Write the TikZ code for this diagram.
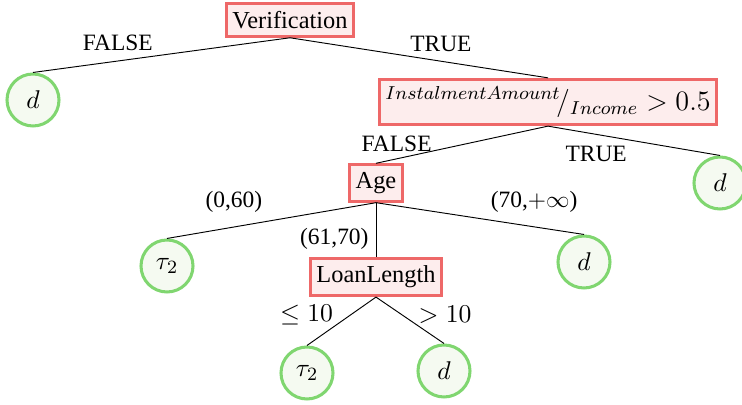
\documentclass[tikz,border=0pt]{standalone}
\usepackage[no-math]{fontspec}
\setmainfont{Liberation Serif}
\usepackage{amsmath}
\usetikzlibrary{positioning}

\definecolor{splitred}{RGB}{238,104,104}
\definecolor{splitfill}{RGB}{253,237,237}
\definecolor{leafgreen}{RGB}{128,214,112}
\definecolor{leaffill}{RGB}{245,250,241}

\tikzset{
  split/.style={draw=splitred, fill=splitfill, line width=1.3pt, rectangle,
    inner xsep=2.6pt, inner ysep=3.2pt, font=\fontsize{10.4}{12}\selectfont},
  leaf/.style={draw=leafgreen, fill=leaffill, line width=1.3pt, circle,
    minimum size=0.78cm, inner sep=0pt, font=\fontsize{11}{13}\selectfont},
  edgelbl/.style={font=\normalsize, inner sep=2pt}
}

\begin{document}
\begin{tikzpicture}[node distance=1.2cm, on grid]
  \useasboundingbox (0,0) rectangle (11.13,-6.075);

  % Wurzel
  \node[split] (verif) at (4.35,-0.30) {Verification};
  \node[leaf, below left=1.2cm and 3.855cm of verif] (dtop) {$d$};
  \node[split, below right=1.23cm and 3.87cm of verif] (ratio)
    {\large$^{InstalmentAmount}\!/_{Income} > 0.5$};

  % zweite Ebene
  \node[split, below left=1.215cm and 2.58cm of ratio] (age) {Age};
  \node[leaf, below right=1.215cm and 2.58cm of ratio] (dright) {$d$};

  % Altersklassen
  \node[leaf, below left=1.245cm and 3.135cm of age] (taul) {$\tau_2$};
  \node[leaf, below right=1.185cm and 3.12cm of age] (dmid) {$d$};
  \node[split, below=1.41cm of age] (loan) {LoanLength};

  % Laufzeit
  \node[leaf, below left=1.44cm and 1.035cm of loan] (taub) {$\tau_2$};
  \node[leaf, below right=1.41cm and 1.02cm of loan] (dlow) {$d$};

  % Kanten
  \draw (verif.south) -- node[edgelbl, pos=0.67, above=2pt] (lf1) {FALSE} (dtop.north);
  \draw (verif.south) -- node[edgelbl, pos=0.585, above=2pt] (lt1) {TRUE} (ratio.north);
  \draw (ratio.south) -- node[edgelbl, pos=0.88, above=1pt] (lf2) {FALSE} (age.north);
  \draw (ratio.south) -- node[edgelbl, pos=0.28, below=3pt] (lt2) {TRUE} (dright.north);
  \draw (age.south) -- node[edgelbl, pos=0.68, above=4pt] (la1) {(0,60)} (taul.north);
  \draw (age.south) -- node[edgelbl, pos=0.76, above=4pt] (la3) {(70,$+\infty$)} (dmid.north);
  \draw (age.south) -- node[edgelbl, pos=0.67, left=1pt] (la2) {(61,70)} (loan.north);
  \draw (loan.south) -- node[edgelbl, font=\fontsize{11}{13}\selectfont, pos=0.38, left=5pt] (ll1) {$\leq 10$} (taub.north);
  \draw (loan.south) -- node[edgelbl, font=\fontsize{11}{13}\selectfont, pos=0.38, right=5pt] (ll2) {$> 10$} (dlow.north);
\end{tikzpicture}
\end{document}
